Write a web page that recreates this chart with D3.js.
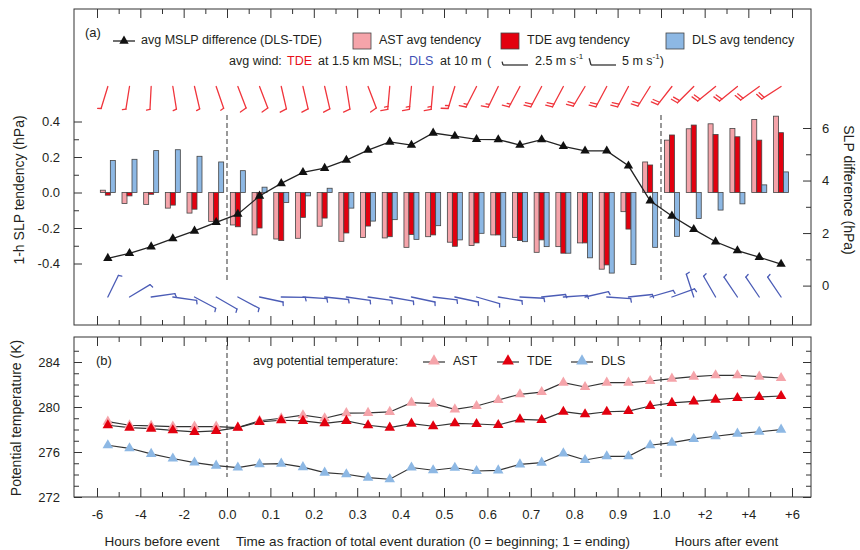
<!DOCTYPE html>
<html>
<head>
<meta charset="utf-8">
<script src="https://cdn.jsdelivr.net/npm/d3@7"></script>
<style>
  body { margin: 0; background: #fff; }
  text { font-family: "Liberation Sans", Arial, sans-serif; fill: #231f20; }
</style>
</head>
<body>
<svg id="chart" width="860" height="550"></svg>
<script>
// time points: hourly before the event, 20 fractions of the event, hourly after
const hoursBefore = [-5.5, -4.5, -3.5, -2.5, -1.5, -0.5];
const eventFraction = [0.025, 0.075, 0.125, 0.175, 0.225, 0.275, 0.325, 0.375, 0.425, 0.475,
                       0.525, 0.575, 0.625, 0.675, 0.725, 0.775, 0.825, 0.875, 0.925, 0.975];
const hoursAfter = [0.5, 1.5, 2.5, 3.5, 4.5, 5.5];

// 1-h SLP tendency (hPa)
const astTendency = [0.013, -0.062, -0.067, -0.088, -0.116, -0.163,
  -0.183, -0.239, -0.262, -0.258, -0.19, -0.275, -0.254, -0.256, -0.309, -0.249,
  -0.28, -0.299, -0.239, -0.254, -0.337, -0.305, -0.284, -0.432, -0.108, 0.172,
  0.295, 0.359, 0.387, 0.361, 0.411, 0.43];
const tdeTendency = [-0.015, -0.019, -0.01, -0.071, -0.094, -0.163,
  -0.193, -0.2, -0.271, -0.14, -0.144, -0.228, -0.189, -0.249, -0.237, -0.239,
  -0.303, -0.284, -0.239, -0.271, -0.267, -0.342, -0.284, -0.408, -0.206, 0.155,
  0.324, 0.38, 0.327, 0.314, 0.295, 0.337];
const dlsTendency = [0.18, 0.187, 0.236, 0.241, 0.204, 0.172,
  0.123, 0.03, -0.056, -0.019, 0.024, -0.088, -0.161, -0.153, -0.264, -0.187,
  -0.267, -0.23, -0.305, -0.277, -0.305, -0.342, -0.368, -0.454, -0.406, -0.309,
  -0.247, -0.146, -0.099, -0.064, 0.043, 0.116];

// avg MSLP difference DLS-TDE (hPa, right axis)
const mslpDiff = [1.04, 1.23, 1.48, 1.79, 2.08, 2.41,
  2.72, 3.41, 3.89, 4.31, 4.47, 4.78, 5.16, 5.47, 5.35, 5.81,
  5.69, 5.57, 5.56, 5.35, 5.56, 5.3, 5.13, 5.13, 4.56, 3.23,
  2.65, 2.14, 1.67, 1.33, 1.08, 0.82];

// avg potential temperature (K)
const astTheta = [278.7, 278.38, 278.32, 278.26, 278.26, 278.26,
  278.17, 278.78, 279.0, 279.27, 279.0, 279.45, 279.48, 279.56, 280.39, 280.3,
  279.79, 280.09, 280.62, 281.13, 281.33, 282.16, 281.78, 282.16, 282.16, 282.31,
  282.52, 282.7, 282.82, 282.82, 282.7, 282.58];
const tdeTheta = [278.38, 278.17, 278.08, 277.93, 277.79, 277.88,
  278.17, 278.68, 278.82, 278.76, 278.55, 278.76, 278.38, 278.17, 278.52, 278.29,
  278.55, 278.49, 278.4, 278.9, 278.84, 279.58, 279.35, 279.58, 279.64, 280.09,
  280.36, 280.5, 280.65, 280.8, 280.89, 280.98];
const dlsTheta = [276.6, 276.33, 275.83, 275.42, 275.06, 274.79,
  274.62, 274.92, 274.97, 274.65, 274.17, 274.02, 273.72, 273.58, 274.62, 274.38,
  274.6, 274.31, 274.37, 274.9, 275.05, 275.88, 275.29, 275.62, 275.62, 276.6,
  276.83, 277.16, 277.4, 277.63, 277.8, 277.99];

// wind: direction the wind blows from (deg) and speed (m/s)
const tdeWindDir = [197, 189, 183, 171, 167, 161,
  159, 159, 167, 167, 167, 171, 159, 185, 185, 185,
  197, 207, 206, 208, 208, 208, 211, 208, 208, 212,
  218, 225, 231, 231, 234, 237];
const tdeWindSpeed = [3, 3, 3, 3, 3, 3,
  5, 5, 5, 5, 5, 5, 5, 7.5, 7.5, 7.5,
  7.5, 7.5, 7.5, 7.5, 10, 10, 10, 10, 10, 10,
  10, 10, 10, 10, 10, 10];
const dlsWindDir = [26, 59, 82, 98, 118, 120,
  118, 102, 91, 94, 96, 98, 98, 100, 102, 97,
  102, 106, 99, 93, 84, 86, 77, 94, 84, 74,
  70, 342, 330, 326, 326, 326];
const dlsWindSpeed = [3, 3, 3, 3, 3, 3,
  3, 3, 3, 3, 3, 3, 3, 3, 3, 3,
  3, 3, 3, 3, 3, 3, 3, 3, 3, 3,
  3, 3, 3, 3, 3, 3];

// x tick positions
const beforeMajor = [-6, -4, -2], beforeMinor = [-5, -3, -1];
const eventMajor = [0, 0.1, 0.2, 0.3, 0.4, 0.5, 0.6, 0.7, 0.8, 0.9, 1.0];
const eventMinor = [0.05, 0.15, 0.25, 0.35, 0.45, 0.55, 0.65, 0.75, 0.85, 0.95];
const afterMajor = [2, 4, 6], afterMinor = [1, 3, 5];

const colors = { AST: "#f5a4aa", TDE: "#e3000f", DLS: "#8db8e4" };

const svg = d3.select("#chart");
const L = 74, R = 811, topA = 9, botA = 325, topB = 337, botB = 497;

// piecewise time scale: -1..0 before, 0..1 event, 1..2 after
const uBefore = h => h / 6, uAfter = h => 1 + h / 6;
const x = d3.scaleLinear().domain([-1, 0, 1, 2]).range([97, 227, 661, 792]);
const times = hoursBefore.map(uBefore).concat(eventFraction, hoursAfter.map(uAfter));

const yTend = d3.scaleLinear().domain([-0.4, 0.4]).range([263.5, 121.5]);
const ySlp = d3.scaleLinear().domain([0, 6]).range([285.6, 128]);
const yTheta = d3.scaleLinear().domain([272, 284]).range([497, 362]);

const majorU = beforeMajor.map(uBefore).concat(eventMajor, afterMajor.map(uAfter));
const minorU = beforeMinor.map(uBefore).concat(eventMinor, afterMinor.map(uAfter));
const majorLabels = beforeMajor.map(String)
  .concat(eventMajor.map(d3.format(".1f")), afterMajor.map(d => "+" + d));

const hyphen = f => d => f(d).replace("\u2212", "-");

function styleAxis(g) {
  g.select(".domain").remove();
  g.selectAll(".tick line").attr("stroke", "#333").attr("stroke-width", 1);
  g.selectAll("text").attr("font-size", 13).attr("font-family", "Liberation Sans, Arial, sans-serif").attr("fill", "#231f20");
}

function xTicks(yPos, top, labels) {
  const mk = top ? d3.axisTop : d3.axisBottom;
  svg.append("g").attr("transform", `translate(0,${yPos})`)
    .call(mk(x).tickValues(majorU).tickSize(-9).tickPadding(13)
      .tickFormat(labels ? (d, i) => majorLabels[i] : ""))
    .call(styleAxis);
  svg.append("g").attr("transform", `translate(0,${yPos})`)
    .call(mk(x).tickValues(minorU).tickSize(-5).tickFormat(""))
    .call(styleAxis);
}

// ---------- panel (a) ----------
// bars
const band = d3.scaleBand().domain(["AST", "TDE", "DLS"]).range([-7.5, 7.5]);
const barSeries = [["AST", astTendency], ["TDE", tdeTendency], ["DLS", dlsTendency]];
barSeries.forEach(([key, vals]) => {
  svg.append("g").selectAll("rect").data(vals).join("rect")
    .attr("x", (d, i) => x(times[i]) + band(key))
    .attr("width", band.bandwidth())
    .attr("y", d => Math.min(yTend(d), yTend(0)))
    .attr("height", d => Math.abs(yTend(d) - yTend(0)))
    .attr("fill", colors[key])
    .attr("stroke", "#444").attr("stroke-width", 0.8);
});

// dashed lines at event start and end
[[0, 115, 282], [1, 115, 282], [0, topB, 477], [1, topB, 477]].forEach(([u, y1, y2]) => {
  svg.append("line").attr("x1", x(u)).attr("x2", x(u)).attr("y1", y1).attr("y2", y2)
    .attr("stroke", "#555").attr("stroke-width", 1.2).attr("stroke-dasharray", "5,3");
});

// MSLP difference line
svg.append("path").datum(mslpDiff)
  .attr("d", d3.line().x((d, i) => x(times[i])).y(d => ySlp(d)))
  .attr("fill", "none").attr("stroke", "#222").attr("stroke-width", 1.3);
svg.append("g").selectAll("path").data(mslpDiff).join("path")
  .attr("d", d3.symbol(d3.symbolTriangle, 38))
  .attr("transform", (d, i) => `translate(${x(times[i])},${ySlp(d)})`)
  .attr("fill", "#111");

// wind barbs
function barb(g, sx, sy, dir, speed, len, color) {
  const th = dir * Math.PI / 180;
  const ux = Math.sin(th), uy = -Math.cos(th);
  const tx = sx + len * ux, ty = sy + len * uy;
  g.append("line").attr("x1", sx).attr("y1", sy).attr("x2", tx).attr("y2", ty)
    .attr("stroke", color).attr("stroke-width", 1.3);
  const a = Math.atan2(uy, ux) + 75 * Math.PI / 180;
  const fx = Math.cos(a), fy = Math.sin(a);
  let full = Math.floor(speed / 5);
  const half = (speed - full * 5) >= 2.5 ? 1 : 0;
  const feathers = d3.range(full).map(() => 7).concat(half ? [3.5] : []);
  feathers.forEach((fl, k) => {
    const bx = tx - k * 3 * ux, by = ty - k * 3 * uy;
    g.append("line").attr("x1", bx).attr("y1", by)
      .attr("x2", bx + fl * fx).attr("y2", by + fl * fy)
      .attr("stroke", color).attr("stroke-width", 1.3);
  });
}
const barbG = svg.append("g").attr("stroke-linecap", "round");
times.forEach((u, i) => {
  barb(barbG, x(u), 86.5, tdeWindDir[i], tdeWindSpeed[i], 23, "#f0353c");
  barb(barbG, x(u), 297, dlsWindDir[i], dlsWindSpeed[i], 24, "#4b5cb6");
});

// frame and axes of (a)
svg.append("rect").attr("x", L).attr("y", topA).attr("width", R - L).attr("height", botA - topA)
  .attr("fill", "none").attr("stroke", "#333").attr("stroke-width", 1);
xTicks(botA, false, false);
xTicks(topA, true, false);

svg.append("g").attr("transform", `translate(${L},0)`)
  .call(d3.axisLeft(yTend).tickValues([-0.4, -0.2, 0, 0.2, 0.4]).tickSize(-8).tickPadding(14)
    .tickFormat(hyphen(d3.format(".1f"))))
  .call(styleAxis);
svg.append("g").attr("transform", `translate(${L},0)`)
  .call(d3.axisLeft(yTend).tickValues([-0.3, -0.1, 0.1, 0.3]).tickSize(-5).tickFormat(""))
  .call(styleAxis);
svg.append("g").attr("transform", `translate(${R},0)`)
  .call(d3.axisRight(ySlp).tickValues([0, 2, 4, 6]).tickSize(-8).tickPadding(11)
    .tickFormat(d3.format("d")))
  .call(styleAxis);
svg.append("g").attr("transform", `translate(${R},0)`)
  .call(d3.axisRight(ySlp).tickValues([1, 3, 5]).tickSize(-5).tickFormat(""))
  .call(styleAxis);

svg.append("text").attr("transform", "translate(20,190) rotate(-90)")
  .attr("text-anchor", "middle").attr("dominant-baseline", "middle").attr("font-size", 14)
  .text("1-h SLP tendency (hPa)");
svg.append("text").attr("transform", "translate(848,190) rotate(90)")
  .attr("text-anchor", "middle").attr("dominant-baseline", "middle").attr("font-size", 14)
  .text("SLP difference (hPa)");

// legend (a)
const lg = svg.append("g").attr("font-size", 12.5);
lg.append("text").attr("x", 85).attr("y", 34).attr("dominant-baseline", "middle").attr("font-size", 13).text("(a)");
lg.append("line").attr("x1", 113).attr("x2", 135).attr("y1", 41).attr("y2", 41).attr("stroke", "#222").attr("stroke-width", 1.3);
lg.append("path").attr("d", d3.symbol(d3.symbolTriangle, 38)).attr("transform", "translate(124,41)").attr("fill", "#111");
lg.append("text").attr("x", 141).attr("y", 41).attr("dominant-baseline", "middle").text("avg MSLP difference (DLS-TDE)");
[["AST", 353], ["TDE", 501], ["DLS", 666]].forEach(([k, lx]) => {
  lg.append("rect").attr("x", lx).attr("y", 33).attr("width", 18).attr("height", 16)
    .attr("fill", colors[k]).attr("stroke", "#444").attr("stroke-width", 0.8);
  lg.append("text").attr("x", lx + 26).attr("y", 41).attr("dominant-baseline", "middle").text(k + " avg tendency");
});

const row2 = [["avg wind:", 229, "#231f20"], ["TDE", 287, "#e8101a"], ["at 1.5 km MSL;", 318, "#231f20"],
  ["DLS", 409, "#3f51b5"], ["at 10 m", 440, "#231f20"], ["(", 487, "#231f20"]];
row2.forEach(([t, lx, c]) => {
  lg.append("text").attr("x", lx).attr("y", 62).attr("dominant-baseline", "middle")
    .style("fill", c).text(t);
});
const unit = (lx, v) => {
  const t = lg.append("text").attr("x", lx).attr("y", 62).attr("dominant-baseline", "middle");
  t.append("tspan").text(v + " m s");
  t.append("tspan").attr("font-size", 8).attr("dy", -5).text("-1");
  return t;
};
barb(lg, 528, 65, 270, 2.5, 25, "#333");
unit(535, "2.5");
barb(lg, 616, 65, 270, 5, 25, "#333");
unit(622, "5").append("tspan").attr("dy", 5).attr("font-size", 12.5).text(")");

// ---------- panel (b) ----------
const thetaSeries = [["AST", astTheta], ["TDE", tdeTheta], ["DLS", dlsTheta]];
thetaSeries.forEach(([key, vals]) => {
  svg.append("path").datum(vals)
    .attr("d", d3.line().x((d, i) => x(times[i])).y(d => yTheta(d)))
    .attr("fill", "none").attr("stroke", "#333").attr("stroke-width", 1.2);
});
thetaSeries.forEach(([key, vals]) => {
  svg.append("g").selectAll("path").data(vals).join("path")
    .attr("d", d3.symbol(d3.symbolTriangle, 48))
    .attr("transform", (d, i) => `translate(${x(times[i])},${yTheta(d)})`)
    .attr("fill", colors[key]);
});

svg.append("rect").attr("x", L).attr("y", topB).attr("width", R - L).attr("height", botB - topB)
  .attr("fill", "none").attr("stroke", "#333").attr("stroke-width", 1);
xTicks(botB, false, true);
xTicks(topB, true, false);

const thetaMajor = [272, 276, 280, 284];
const thetaMinor = [273, 274, 275, 277, 278, 279, 281, 282, 283, 285];
svg.append("g").attr("transform", `translate(${L},0)`)
  .call(d3.axisLeft(yTheta).tickValues(thetaMajor).tickSize(-8).tickPadding(14))
  .call(styleAxis);
svg.append("g").attr("transform", `translate(${L},0)`)
  .call(d3.axisLeft(yTheta).tickValues(thetaMinor).tickSize(-5).tickFormat(""))
  .call(styleAxis);
svg.append("g").attr("transform", `translate(${R},0)`)
  .call(d3.axisRight(yTheta).tickValues(thetaMajor).tickSize(-8).tickFormat(""))
  .call(styleAxis);
svg.append("g").attr("transform", `translate(${R},0)`)
  .call(d3.axisRight(yTheta).tickValues(thetaMinor).tickSize(-5).tickFormat(""))
  .call(styleAxis);

svg.append("text").attr("transform", "translate(17,418) rotate(-90)")
  .attr("text-anchor", "middle").attr("dominant-baseline", "middle").attr("font-size", 14)
  .text("Potential temperature (K)");

const lb = svg.append("g").attr("font-size", 12.5);
lb.append("text").attr("x", 96).attr("y", 362).attr("dominant-baseline", "middle").attr("font-size", 13).text("(b)");
lb.append("text").attr("x", 253).attr("y", 362).attr("dominant-baseline", "middle").text("avg potential temperature:");
[["AST", 434], ["TDE", 508], ["DLS", 582]].forEach(([k, cx]) => {
  lb.append("line").attr("x1", cx - 11).attr("x2", cx + 11).attr("y1", 362).attr("y2", 362)
    .attr("stroke", "#333").attr("stroke-width", 1.2);
  lb.append("path").attr("d", d3.symbol(d3.symbolTriangle, 60)).attr("transform", `translate(${cx},361)`).attr("fill", colors[k]);
  lb.append("text").attr("x", cx + 19).attr("y", 362).attr("dominant-baseline", "middle").text(k);
});

// bottom captions
const cap = svg.append("g").attr("font-size", 13.5);
cap.append("text").attr("x", x(-0.5)).attr("y", 542).attr("text-anchor", "middle").attr("dominant-baseline", "middle").text("Hours before event");
cap.append("text").attr("x", 433).attr("y", 542).attr("text-anchor", "middle").attr("dominant-baseline", "middle")
  .text("Time as fraction of total event duration (0 = beginning; 1 = ending)");
cap.append("text").attr("x", x(1.5)).attr("y", 542).attr("text-anchor", "middle").attr("dominant-baseline", "middle").text("Hours after event");
</script>
</body>
</html>
